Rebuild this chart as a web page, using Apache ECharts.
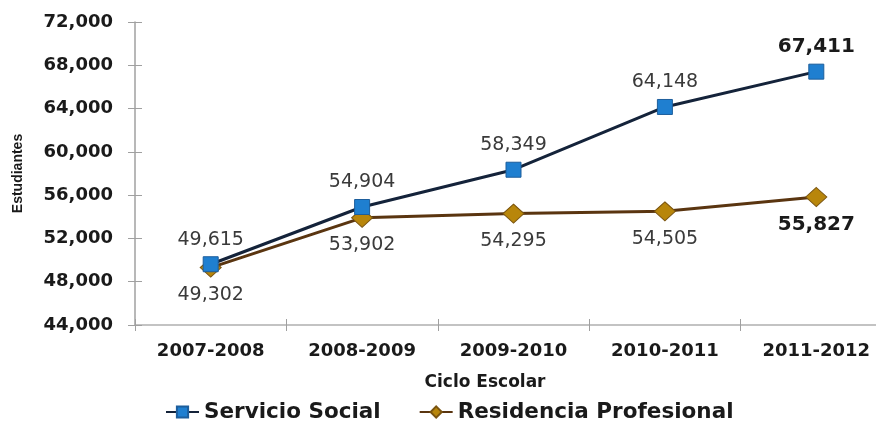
<!DOCTYPE html>
<html>
<head>
<meta charset="utf-8">
<script src="https://cdn.jsdelivr.net/npm/echarts@6/dist/echarts.min.js"></script>
<style>
  html, body { margin: 0; padding: 0; background: #ffffff; }
  #chart { width: 876px; height: 426px; }
</style>
</head>
<body>
<div id="chart"></div>
<script>
const categories = ['2007-2008', '2008-2009', '2009-2010', '2010-2011', '2011-2012'];
const servicioSocial = [49615, 54904, 58349, 64148, 67411];
const residenciaProfesional = [49302, 53902, 54295, 54505, 55827];
const seriesNames = ['Servicio Social', 'Residencia Profesional'];
const yAxisTitle = 'Estudiantes';
const xAxisTitle = 'Ciclo Escolar';

const fmt = v => Number(v).toLocaleString('en-US');
const boldLast = (arr) => arr.map((v, i) => i === arr.length - 1
  ? { value: v, label: { fontWeight: 'bold', fontSize: 20, color: '#1a1a1a' } }
  : v);

const yBase = { type: 'value', min: 44000, max: 72000, interval: 4000, splitLine: { show: false } };

const chart = echarts.init(document.getElementById('chart'), null, { renderer: 'canvas' });
chart.setOption({
  animation: false,
  backgroundColor: '#ffffff',
  textStyle: { fontFamily: 'DejaVu Sans' },
  grid: { left: 135, width: 757, top: 22, height: 303, containLabel: false, outerBoundsMode: 'none' },
  legend: {
    left: 165, top: 401, padding: 0,
    itemWidth: 33, itemHeight: 14, itemGap: 38,
    textStyle: { fontFamily: 'DejaVu Sans', fontWeight: 'bold', fontSize: 21.5, color: '#1a1a1a' },
    data: seriesNames
  },
  xAxis: [{
    type: 'category', data: categories, boundaryGap: true,
    axisLine: { show: true, lineStyle: { color: '#b0b0b0', width: 1.5 } },
    axisTick: { show: true, length: 6, lineStyle: { color: '#a0a0a0' } },
    axisLabel: { margin: 17, fontFamily: 'DejaVu Sans', fontWeight: 'bold', fontSize: 18, color: '#1a1a1a' },
    name: xAxisTitle, nameLocation: 'middle', nameGap: 49,
    nameTextStyle: { fontFamily: 'DejaVu Sans', fontWeight: 'bold', fontSize: 17, color: '#1a1a1a', padding: [0, 57, 0, 0] }
  }, {
    type: 'category', data: categories, boundaryGap: true, position: 'bottom',
    axisLine: { show: false },
    axisTick: { show: true, inside: true, length: 6, lineStyle: { color: '#a0a0a0' } },
    axisLabel: { show: false }
  }],
  yAxis: [Object.assign({}, yBase, {
    axisLine: { show: true, lineStyle: { color: '#a0a0a0', width: 1.5 } },
    axisTick: { show: true, length: 7, lineStyle: { color: '#a0a0a0' } },
    axisLabel: { margin: 22, formatter: fmt, fontFamily: 'DejaVu Sans', fontWeight: 'bold', fontSize: 18, color: '#1a1a1a' },
    name: yAxisTitle, nameLocation: 'middle', nameGap: 110, nameRotate: 90,
    nameTextStyle: { fontFamily: 'Liberation Sans', fontWeight: 'bold', fontSize: 14, color: '#1a1a1a' }
  }), Object.assign({}, yBase, {
    position: 'left',
    axisLine: { show: false },
    axisTick: { show: true, inside: true, length: 7, lineStyle: { color: '#a0a0a0' } },
    axisLabel: { show: false }
  })],
  series: [{
    name: seriesNames[0], type: 'line', data: boldLast(servicioSocial),
    symbol: 'rect', symbolSize: 15,
    itemStyle: { color: '#1f7fd0', borderColor: '#1d5e9c', borderWidth: 1 },
    lineStyle: { color: '#14233a', width: 3 },
    label: { show: true, position: 'top', distance: 7, formatter: p => fmt(p.value),
      fontFamily: 'DejaVu Sans', fontSize: 19, color: '#3a3a3a' },
    z: 3
  }, {
    name: seriesNames[1], type: 'line', data: boldLast(residenciaProfesional),
    symbol: 'diamond', symbolSize: [21, 19],
    itemStyle: { color: '#b8860b', borderColor: '#7a5410', borderWidth: 1 },
    lineStyle: { color: '#5a3510', width: 3 },
    label: { show: true, position: 'bottom', distance: 8, formatter: p => fmt(p.value),
      fontFamily: 'DejaVu Sans', fontSize: 19, color: '#3a3a3a' },
    z: 2
  }]
});
</script>
</body>
</html>
